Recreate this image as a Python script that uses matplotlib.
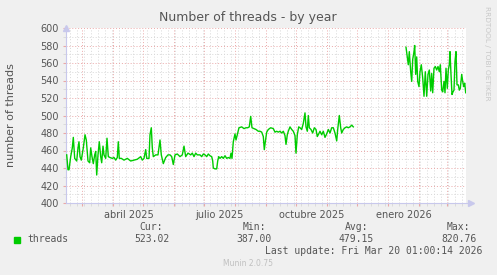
import datetime as dt

import matplotlib
matplotlib.use("Agg")
import matplotlib.dates as mdates
import matplotlib.pyplot as plt
import matplotlib.transforms as mtransforms
import numpy as np

# time window of the munin "by year" graph: 400 days up to the last update
end_time = dt.datetime(2026, 3, 20, 1, 0, 14)
start_time = end_time - dt.timedelta(days=400)

# days since start_time (three stretches, gap in between)
days_a = [0.7, 2, 3, 4.7, 6.3, 7.3, 8.7, 10.7, 12, 13, 14, 15.3, 17.3, 19, 20.3,
          22, 23.7, 24.7, 26, 27.3, 28.7, 29.7, 30.7, 32, 33.3, 34.7, 35.7, 37,
          38, 39.7, 41, 42.3, 44, 46.3, 48, 49.7, 51.3, 52.3, 53.3, 55.3, 58,
          61.3, 64.7, 68, 71.3, 74.7, 76.3, 78, 79.7, 80.7, 83, 84, 85.3, 86.3,
          87.3, 89.7, 92, 94, 95.3, 97.3, 99.7, 102, 104, 105.7, 107.3, 109,
          111.3, 114, 116.3, 118, 119.7, 122, 124.7, 126.3, 128, 129.7, 131.3,
          134, 135.7, 137.3, 139, 140.7, 142.3, 144, 145.7, 146.7, 147.3, 149,
          150.7, 151.7, 152.7, 154, 155.7, 157.3, 159, 160.7, 162.3, 164, 165,
          166, 167.3, 169, 170, 171.3, 173, 175.7, 178, 180, 181.7, 183.3,
          184.7, 186, 188, 190, 192.3, 194, 195.7, 197.3, 198.3, 199.3, 200.7,
          202.3, 204.7, 207.3, 209, 210.7, 212.3, 214, 215.7, 217.3, 219, 220,
          221.3, 222.3, 224, 225.7, 227.3, 229, 230, 231.3, 232.7, 234, 235.7,
          237.3, 239, 240, 241.3, 242.3, 243.3, 245, 246.7, 248.3, 250, 251.3,
          252.3, 254, 255.7, 257.3, 259, 260.7, 262.3, 264, 265.7, 267.3, 269,
          270.7, 271.7, 273.3, 274.7, 275.7, 277.3, 279, 280.7, 282.3, 284,
          285.7, 287.3]
threads_a = [455, 438, 438, 453, 463, 475, 451, 448, 463, 470, 453, 449, 463,
             478, 472, 448, 446, 463, 453, 445, 455, 459, 432, 455, 470, 453,
             446, 465, 455, 451, 474, 453, 452, 451, 452, 449, 452, 470, 451,
             451, 449, 451, 448, 449, 450, 453, 449, 451, 461, 451, 451, 478,
             486, 463, 453, 455, 455, 472, 455, 445, 452, 455, 455, 453, 444,
             455, 456, 453, 455, 465, 453, 457, 455, 457, 453, 457, 455,
             455, 453, 456, 455, 453, 456, 454, 453, 448, 440, 439, 439, 448,
             453, 451, 453, 451, 454, 451, 452, 451, 457, 451, 470, 479, 472,
             478, 486, 487, 485, 486, 486, 487, 499, 486, 485, 484, 482, 482,
             481, 476, 461, 470, 481, 484, 486, 485, 481, 482, 481, 482, 480,
             482, 477, 467, 478, 482, 487, 484, 482, 477, 457, 478, 487, 486,
             484, 491, 503, 487, 482, 500, 486, 484, 480, 486, 484, 476, 478,
             482, 478, 482, 475, 479, 484, 480, 486, 486, 480, 471, 484, 500,
             486, 480, 484, 486, 487, 486, 487, 489, 487]

days_b = [340, 341.3, 342.3, 343.3, 344.7, 345.7, 346.7, 348, 348.7, 349.7,
          350.7, 351.7, 353, 354, 355.3, 356.7, 358, 359.3, 360.7, 362, 363.3,
          364.7, 365.7, 366.7, 368, 369.3, 370.7, 372, 373.3, 374.3, 375.7,
          376.7, 378, 379, 380, 381.3, 382.3, 383.3, 384, 385, 386, 387, 388,
          389, 390, 391, 392.3, 393.3, 394.3, 395.7, 396.7, 397.7, 398.7, 399.7]
threads_b = [578, 567, 558, 573, 550, 539, 564, 573, 580, 547, 567, 539, 533,
             550, 558, 543, 522, 550, 522, 547, 552, 528, 548, 526, 554, 556,
             552, 556, 550, 558, 529, 527, 539, 526, 554, 531, 552, 558, 573,
             547, 524, 527, 529, 562, 573, 535, 535, 529, 531, 547, 539, 533,
             537, 526]

yticks = [400, 420, 440, 460, 480, 500, 520, 540, 560, 580, 600]
quarter_names = {1: "enero", 4: "abril", 7: "julio", 10: "octubre"}

title = "Number of threads - by year"
ylabel = "number of threads"
legend_name = "threads"
stat_heads = ["Cur:", "Min:", "Avg:", "Max:"]
stat_values = ["523.02", "387.00", "479.15", "820.76"]
last_update = "Last update: Fri Mar 20 01:00:14 2026"
footer = "Munin 2.0.75"
side_note = "RRDTOOL / TOBI OETIKER"

BG = "#f0f0f0"
TXT = "#555555"
LINE = "#00cc00"
MAJOR = "#eaa8a8"
MINOR = "#d8d8d8"
AXIS = "#c8c8ec"


def to_dates(days):
    return [start_time + dt.timedelta(days=d) for d in days]


x = to_dates(days_a) + [start_time + dt.timedelta(days=310)] + to_dates(days_b)
y = threads_a + [np.nan] + threads_b

W, H = 497, 275
fig = plt.figure(figsize=(W / 100, H / 100), dpi=100, facecolor=BG)
ax = fig.add_axes([66 / W, 1 - 203 / H, 400 / W, 175 / H])
ax.set_facecolor("white")

ax.plot(x, y, color=LINE, lw=1.0, zorder=3)

ax.set_xlim(start_time, end_time)
ax.set_ylim(400, 600)

# horizontal grid
ax.set_yticks(yticks)
ax.yaxis.set_minor_locator(matplotlib.ticker.MultipleLocator(10))
ax.grid(True, which="major", axis="y", color=MAJOR, ls=(0, (1, 2)), lw=0.7)
ax.grid(True, which="minor", axis="y", color=MINOR, ls=(0, (1, 2)), lw=0.7)

# vertical grid: months (major) and weeks (minor)
ax.xaxis.set_major_locator(mdates.MonthLocator())
ax.xaxis.set_minor_locator(mdates.WeekdayLocator(byweekday=mdates.MO))
ax.grid(True, which="major", axis="x", color=MAJOR, ls=(0, (1, 2)), lw=0.7)
ax.grid(True, which="minor", axis="x", color=MINOR, ls=(0, (1, 2)), lw=0.7)


def month_label(val, pos):
    d = mdates.num2date(val)
    if d.month in quarter_names:
        return f"{quarter_names[d.month]} {d.year}"
    return ""


ax.xaxis.set_major_formatter(matplotlib.ticker.FuncFormatter(month_label))

ax.tick_params(axis="x", which="major", length=2, color=MAJOR, labelsize=7,
               labelcolor=TXT, pad=3)
ax.tick_params(axis="x", which="minor", length=2, color=MINOR)
ax.tick_params(axis="y", which="major", length=2, color=MAJOR, labelsize=7,
               labelcolor=TXT, pad=3)
ax.tick_params(axis="y", which="minor", length=2, color=MINOR)

# rrdtool centres the label on the month, not on its first day
shift = mtransforms.ScaledTranslation(0.155, 0, fig.dpi_scale_trans)
for tick in ax.xaxis.get_major_ticks():
    tick.label1.set_transform(tick.label1.get_transform() + shift)

for side in ("top", "right"):
    ax.spines[side].set_visible(False)
for side in ("left", "bottom"):
    ax.spines[side].set_color(AXIS)
    ax.spines[side].set_linewidth(0.8)
ax.spines["bottom"].set_bounds(mdates.date2num(start_time),
                               mdates.date2num(end_time + dt.timedelta(days=4)))
ax.plot([0], [1.0], marker="^", ms=4, color=AXIS, transform=ax.transAxes,
        clip_on=False)
ax.plot([1.012], [0], marker=">", ms=4, color=AXIS, transform=ax.transAxes,
        clip_on=False)

fig.text(11 / W, 1 - 115 / H, ylabel, rotation=90, ha="center", va="center",
         fontsize=8, color=TXT)
fig.text(248 / W, 1 - 18 / H, title, ha="center", va="center", fontsize=9,
         color=TXT)
fig.text(487 / W, 1 - 6 / H, side_note, ha="center", va="top", rotation=270,
         fontsize=5.3, color="#c8c8c8")

# legend block
mono = "DejaVu Sans Mono"
fig.patches.append(plt.Rectangle((14 / W, 1 - 242.5 / H), 5.5 / W, 5.5 / H,
                                 transform=fig.transFigure, color=LINE))
fig.text(27 / W, 1 - 239 / H, legend_name, family=mono, fontsize=7,
         color=TXT, va="center")
head_right = [163, 266, 368, 470]
value_right = [170, 272, 374, 477]
for head, val, hx, vx in zip(stat_heads, stat_values, head_right, value_right):
    fig.text(hx / W, 1 - 227 / H, head, family=mono, fontsize=7, color=TXT,
             ha="right", va="center")
    fig.text(vx / W, 1 - 239 / H, val, family=mono, fontsize=7, color=TXT,
             ha="right", va="center")
fig.text(482 / W, 1 - 251 / H, last_update, family=mono, fontsize=7,
         color=TXT, ha="right", va="center")
fig.text(248 / W, 1 - 263 / H, footer, fontsize=5.5, color="#c0c0c0",
         ha="center", va="center")

fig.savefig("out.png", dpi=100, facecolor=BG)
